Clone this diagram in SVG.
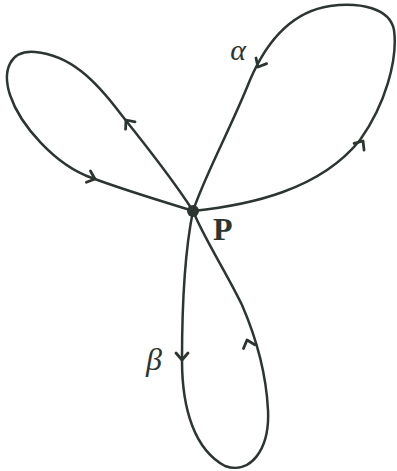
<svg xmlns="http://www.w3.org/2000/svg" width="397" height="471" viewBox="0 0 397 471">
<style>
.loop{fill:none;stroke:#2c3530;stroke-width:2.5;stroke-linecap:round;stroke-linejoin:round}
.arr{fill:none;stroke:#2c3530;stroke-width:2.8;stroke-linecap:round;stroke-linejoin:round}
.lbl{font-family:"Liberation Serif",serif;fill:#2c3530}
</style>
<defs>
<path id="chev" d="M-7,-6 L0,0 L-7,6"/>
</defs>
<rect width="397" height="471" fill="#ffffff"/>
<g id="connectors">
<path id="loop-alpha" class="loop" d="M193,211 C250,205 320,190 360,140 C385,105 398,60 394,30 C390,8 360,2 330,6 C290,12 265,45 250,80 C230,130 205,175 193,211"/>
<path id="loop-left" class="loop" d="M193,211 C170,175 145,145 120,113 C95,80 70,55 35,52 C10,50 2,70 10,95 C20,125 55,165 92,178 C130,192 165,202 193,211"/>
<path id="loop-beta" class="loop" d="M193,211 C185,250 182,300 182,360 C182,410 195,450 225,466 C250,475 270,450 268,410 C266,370 255,335 242,305 C225,270 205,240 193,211"/>
<use href="#chev" class="arr" transform="translate(258,67) rotate(118)"/>
<use href="#chev" class="arr" transform="translate(363,141) rotate(-56)"/>
<use href="#chev" class="arr" transform="translate(126,120) rotate(-128)"/>
<use href="#chev" class="arr" transform="translate(95,179) rotate(20)"/>
<use href="#chev" class="arr" transform="translate(182,360) rotate(90)"/>
<use href="#chev" class="arr" transform="translate(247,340) rotate(-108)"/>
</g>
<g id="node-P">
<circle cx="193" cy="211" r="6" fill="#2c3530"/>
<text class="lbl" x="213" y="240" font-size="32" font-weight="bold">P</text>
</g>
<g id="label-alpha">
<text class="lbl" x="238" y="60" font-size="30" font-style="italic" text-anchor="middle">α</text>
</g>
<g id="label-beta">
<text class="lbl" x="154" y="370" font-size="32" font-style="italic" text-anchor="middle">β</text>
</g>
</svg>
